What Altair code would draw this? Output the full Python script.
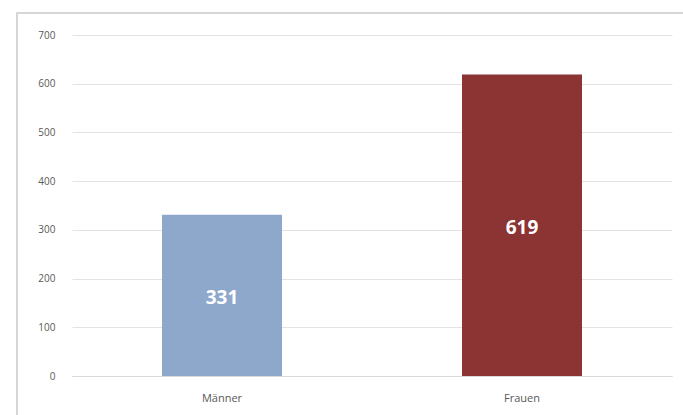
import altair as alt
import pandas as pd

categories = ["Männer", "Frauen"]
values = [331, 619]
colors = ["#8EA8CC", "#8C3333"]

df = pd.DataFrame({"cat": categories, "value": values, "color": colors})

base = alt.Chart(df)

xenc = alt.X("cat:N", sort=categories, title=None,
             scale=alt.Scale(paddingInner=0.6, paddingOuter=0.3),
             axis=alt.Axis(labelAngle=0, domain=True, domainColor="#d9d9d9",
                           ticks=False, labelPadding=16, labelFontSize=11,
                           labelColor="#595959", labelFont="Open Sans"))

bars = base.mark_bar().encode(
    x=xenc,
    y=alt.Y("value:Q", title=None,
            scale=alt.Scale(domain=[0, 700]),
            axis=alt.Axis(values=[0, 100, 200, 300, 400, 500, 600, 700],
                          domain=False, ticks=False, labelPadding=17,
                          labelFontSize=10, labelColor="#595959",
                          labelFont="Open Sans",
                          grid=True, gridColor="#e3e3e3")),
    color=alt.Color("color:N", scale=None),
)

labels = base.transform_calculate(mid="datum.value / 2").mark_text(
    color="white", fontWeight="bold", fontSize=19, font="Open Sans",
    baseline="middle", align="center", dy=3
).encode(
    x=alt.X("cat:N", sort=categories),
    y=alt.Y("mid:Q"),
    text=alt.Text("value:Q"),
)

frame = alt.Chart(df).mark_rect(
    fill=None, stroke="#d4d4d4", strokeWidth=1.5, clip=False
).encode(
    x=alt.value(-55), x2=alt.value(650),
    y=alt.value(-22), y2=alt.value(420),
)

chart = alt.layer(frame, bars, labels).properties(
    width=600, height=341,
    autosize=alt.AutoSizeParams(type="none"),
    padding={"left": 72, "top": 35, "right": 11, "bottom": 39},
    background="white",
).configure_view(stroke=None)

chart.save("out.html", embed_options={"renderer": "svg", "actions": False})
